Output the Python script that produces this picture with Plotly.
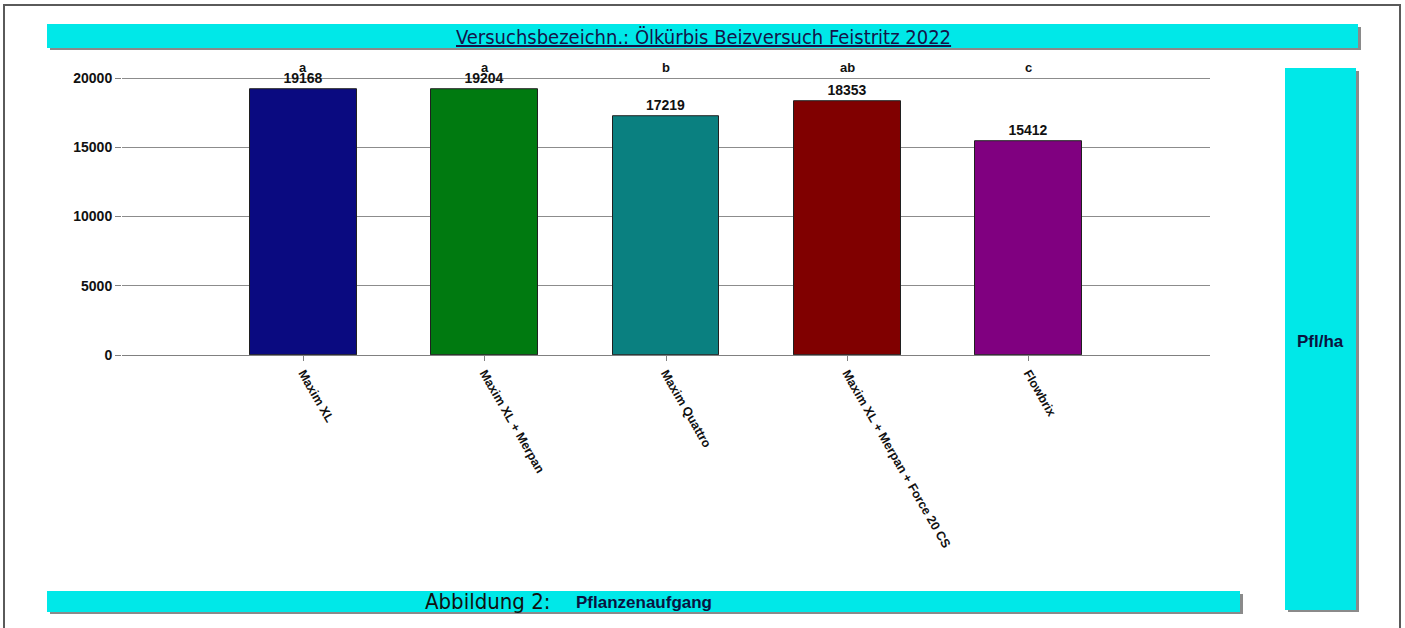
import plotly.graph_objects as go

categories = ["Maxim XL", "Maxim XL + Merpan", "Maxim Quattro", "Maxim XL + Merpan + Force 20 CS", "Flowbrix"]
values = [19168, 19204, 17219, 18353, 15412]
letters = ["a", "a", "b", "ab", "c"]
bar_colors = ["#0a0a80", "#007a10", "#0a8080", "#800000", "#800080"]
y_ticks = [0, 5000, 10000, 15000, 20000]

title_text = "Versuchsbezeichn.: Ölkürbis Beizversuch Feistritz 2022"
fig_label = "Abbildung 2:"
fig_caption = "Pflanzenaufgang"
unit_text = "Pfl/ha"

W, H = 1405, 628
def px(x):
    return x / W
def py(y):
    return 1 - y / H

CYAN = "#00e8e8"
SHADOW = "#8a8a8a"
NARROW = "Liberation Sans Narrow, DejaVu Sans Condensed, Arial Narrow, sans-serif"
BOLD = "Liberation Sans, Arial, sans-serif"

Y_MAX = 20200
Y0_PX, Y20K_PX = 355, 78
y_top_px = Y0_PX - (Y0_PX - Y20K_PX) * Y_MAX / 20000

fig = go.Figure()
fig.add_trace(go.Bar(
    x=list(range(len(categories))),
    y=values,
    marker=dict(color=bar_colors, line=dict(color="#202020", width=1)),
    width=0.59,
    text=[str(v) for v in values],
    textposition="outside",
    textfont=dict(family=BOLD, size=14, color="#111111", weight="bold"),
    cliponaxis=False,
    hoverinfo="x+y",
))

shapes = []
def banner(x0, y0, x1, y1):
    shapes.append(dict(type="rect", xref="paper", yref="paper",
                       x0=px(x0 + 3), x1=px(x1 + 3), y0=py(y1 + 2), y1=py(y0 + 3),
                       fillcolor=SHADOW, line=dict(width=0), layer="below"))
    shapes.append(dict(type="rect", xref="paper", yref="paper",
                       x0=px(x0), x1=px(x1), y0=py(y1), y1=py(y0),
                       fillcolor=CYAN, line=dict(width=0), layer="below"))

# outer frame (bottom edge lies below the visible page)
shapes.append(dict(type="rect", xref="paper", yref="paper",
                   x0=px(4), x1=px(1400), y0=py(640), y1=py(5),
                   fillcolor="rgba(0,0,0,0)", line=dict(color="#5a5a5a", width=2), layer="below"))
banner(47, 24, 1358, 48)
banner(47, 591, 1240, 612)
banner(1285, 68, 1356, 610)

annotations = []
annotations.append(dict(text="<u>" + title_text + "</u>", xref="paper", yref="paper",
                        x=px(703), y=py(37), showarrow=False,
                        font=dict(family=NARROW, size=20, color="#14144a"),
                        xanchor="center", yanchor="middle"))
annotations.append(dict(text=fig_label, xref="paper", yref="paper",
                        x=px(423), y=py(601), showarrow=False,
                        font=dict(family=NARROW, size=22, color="#111111"),
                        xanchor="left", yanchor="middle"))
annotations.append(dict(text="<b>" + fig_caption + "</b>", xref="paper", yref="paper",
                        x=px(574), y=py(602), showarrow=False,
                        font=dict(family=BOLD, size=17, color="#0a1440"),
                        xanchor="left", yanchor="middle"))
annotations.append(dict(text="<b>" + unit_text + "</b>", xref="paper", yref="paper",
                        x=px(1320), y=py(341), showarrow=False,
                        font=dict(family=BOLD, size=17, color="#0a1440"),
                        xanchor="center", yanchor="middle"))
for i, l in enumerate(letters):
    annotations.append(dict(text="<b>" + l + "</b>", x=i, y=py(68), xref="x", yref="paper",
                            showarrow=False, font=dict(family=BOLD, size=13, color="#111111"),
                            xanchor="center", yanchor="middle"))

fig.update_layout(
    width=W, height=H,
    margin=dict(l=0, r=0, t=0, b=0, pad=0, autoexpand=False),
    paper_bgcolor="white", plot_bgcolor="white",
    showlegend=False,
    shapes=shapes,
    annotations=annotations,
    bargap=0,
    xaxis=dict(
        domain=[px(122), px(1210)],
        range=[-1, 5],
        automargin=False,
        tickmode="array",
        tickvals=list(range(len(categories))),
        ticktext=["<b>" + c + "</b>" for c in categories],
        tickangle=60,
        tickfont=dict(family=BOLD, size=12.5, color="#111111"),
        showline=True, linecolor="#808080", linewidth=1,
        ticks="outside", ticklen=5, tickcolor="#808080",
        showgrid=False, zeroline=False,
    ),
    yaxis=dict(
        domain=[py(Y0_PX), py(y_top_px)],
        range=[0, Y_MAX],
        automargin=False,
        tickmode="array",
        tickvals=y_ticks,
        ticktext=["<b>%d</b>" % v for v in y_ticks],
        tickfont=dict(family=BOLD, size=14, color="#111111"),
        showgrid=True, gridcolor="#8c8c8c", gridwidth=1,
        ticks="outside", ticklen=6, tickcolor="#808080",
        showline=False, zeroline=False,
    ),
)

fig.write_html("out.html", config={"displayModeBar": False},
               post_script="document.body.style.margin='0';")
